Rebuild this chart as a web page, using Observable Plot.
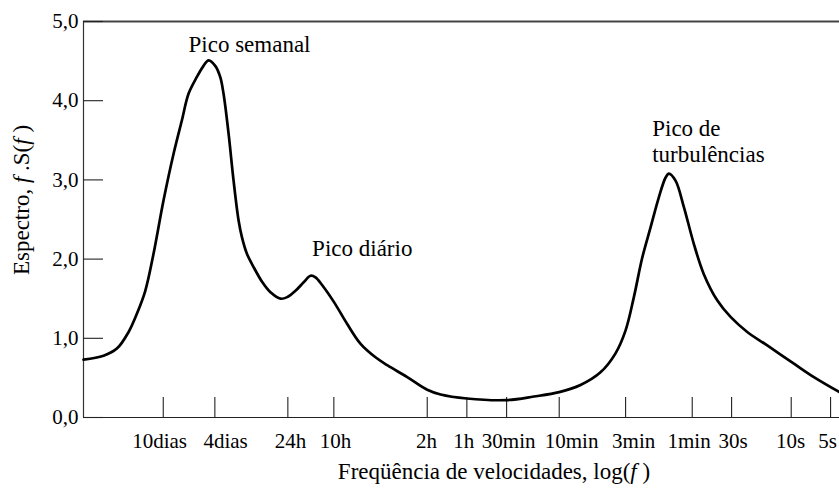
<!DOCTYPE html>
<html>
<head>
<meta charset="utf-8">
<script src="https://cdn.jsdelivr.net/npm/d3@7"></script>
<script src="https://cdn.jsdelivr.net/npm/@observablehq/plot@0.6"></script>
<style>
  html, body { margin: 0; padding: 0; background: #fff; }
  #chart { width: 839px; height: 488px; }
</style>
</head>
<body>
<div id="chart"></div>
<script>
const logF = [
  -6.562, -6.405, -6.300, -6.208, -6.143, -6.077, -6.012, -5.934, -5.855, -5.790,
  -5.737, -5.672, -5.620, -5.580, -5.528, -5.489, -5.463, -5.423, -5.384, -5.345,
  -5.319, -5.280, -5.227, -5.159, -5.094, -5.015, -4.963, -4.898, -4.832, -4.780,
  -4.741, -4.688, -4.597, -4.492, -4.387, -4.270, -4.178, -4.021, -3.864, -3.759,
  -3.553, -3.241, -3.027, -2.828, -2.661, -2.504, -2.386, -2.307, -2.242, -2.176,
  -2.111, -2.046, -1.993, -1.967, -1.915, -1.850, -1.771, -1.693, -1.588, -1.483,
  -1.352, -1.195, -0.986, -0.829, -0.628
];
const spectrum = [
  0.73, 0.78, 0.87, 1.08, 1.31, 1.60, 2.07, 2.74, 3.33, 3.75,
  4.09, 4.30, 4.44, 4.51, 4.44, 4.30, 4.09, 3.58, 2.99, 2.49,
  2.28, 2.07, 1.90, 1.71, 1.58, 1.50, 1.52, 1.60, 1.71, 1.79,
  1.77, 1.67, 1.46, 1.18, 0.93, 0.76, 0.66, 0.51, 0.35, 0.29,
  0.24, 0.22, 0.265, 0.32, 0.41, 0.57, 0.81, 1.10, 1.52, 2.02,
  2.40, 2.78, 3.03, 3.08, 2.99, 2.66, 2.19, 1.81, 1.48, 1.27,
  1.08, 0.91, 0.68, 0.51, 0.32
];

// x axis ticks (periods): tick positions and label centres on the log(f) axis
const xTickLabels = ["10dias", "4dias", "24h", "10h", "2h", "1h", "30min", "10min", "3min", "1min", "30s", "10s", "5s"];
const xTickPos = [-5.936, -5.531, -4.958, -4.597, -3.864, -3.553, -3.241, -2.828, -2.307, -1.784, -1.475, -1.007, -0.698];
const xLabelPos = [-5.965, -5.447, -4.937, -4.584, -3.869, -3.578, -3.225, -2.731, -2.244, -1.809, -1.463, -1.012, -0.722];
const xDomain = [-6.562, -0.628];

const yTicks = [0, 1, 2, 3, 4, 5];

// peak annotations
const peakLabels = ["Pico semanal", "Pico diário", "Pico de\nturbulências"];
const peakX = [-5.259, -4.374, -2.098];
const peakY = [4.61, 2.045, 3.232];
const peakAnchor = ["middle", "middle", "start"];

const curve = logF.map((x, i) => ({x, y: spectrum[i]}));
const notes = peakLabels.map((t, i) => ({text: t, x: peakX[i], y: peakY[i], anchor: peakAnchor[i]}));
const xLabels = xTickLabels.map((t, i) => ({text: t, x: xLabelPos[i]}));
const fmtY = d => d.toFixed(1).replace(".", ",");

const serif = "'Liberation Serif', 'Times New Roman', 'DejaVu Serif', serif";

const plot = Plot.plot({
  width: 839,
  height: 488,
  marginLeft: 83,
  marginRight: 0,
  marginTop: 21,
  marginBottom: 71,
  style: {fontSize: "21px", color: "#000", background: "#fff", overflow: "visible"},
  x: {domain: xDomain, axis: null},
  y: {domain: [0, 5], axis: null},
  marks: [
    // frame lines
    Plot.ruleY([0], {stroke: "#222", strokeWidth: 1.2}),
    Plot.ruleY([5], {stroke: "#444", strokeWidth: 1.8}),
    Plot.ruleX([xDomain[0]], {stroke: "#333", strokeWidth: 1.2}),
    // inward ticks
    Plot.axisY(yTicks, {anchor: "left", tickSize: -20, fill: "none", label: null, stroke: "#222", strokeWidth: 1.1}),
    Plot.axisX(xTickPos, {anchor: "bottom", tickSize: -20, fill: "none", label: null, stroke: "#222", strokeWidth: 1.1}),
    // tick labels
    Plot.axisY(yTicks, {anchor: "left", tickSize: 0, tickPadding: 5, tickFormat: fmtY, label: null, fontSize: 21}),
    Plot.text(xLabels, {x: "x", text: "text", frameAnchor: "bottom", lineAnchor: "top", dy: 16, textAnchor: "middle", fontSize: 21, fill: "#000"}),
    // the spectrum
    Plot.line(curve, {x: "x", y: "y", curve: "catmull-rom", stroke: "#000", strokeWidth: 2.7}),
    // annotations
    Plot.text(notes.filter(d => d.anchor === "middle"), {x: "x", y: "y", text: "text", textAnchor: "middle", lineAnchor: "bottom", fontSize: 23, fill: "#000"}),
    Plot.text(notes.filter(d => d.anchor === "start"), {x: "x", y: "y", text: "text", textAnchor: "start", lineAnchor: "bottom", lineHeight: 1.13, fontSize: 23, fill: "#000"})
  ]
});

const svg = d3.select(plot);
// y axis label with italic f
const yl = svg.append("text")
  .attr("transform", "translate(29,200) rotate(-90)")
  .attr("text-anchor", "middle")
  .attr("font-size", 23)
  .attr("fill", "#000");
yl.append("tspan").text("Espectro, ");
yl.append("tspan").attr("font-style", "italic").text("f");
yl.append("tspan").text(" .S(");
yl.append("tspan").attr("font-style", "italic").text("f");
yl.append("tspan").text(" )");

// x axis label with italic f
const xl = svg.append("text")
  .attr("x", 494)
  .attr("y", 479)
  .attr("text-anchor", "middle")
  .attr("font-size", 23)
  .attr("fill", "#000");
xl.append("tspan").text("Freqüência de velocidades, log(");
xl.append("tspan").attr("font-style", "italic").text("f");
xl.append("tspan").text(" )");

// serif face on every text element
svg.attr("font-family", serif).style("font-family", serif);
svg.selectAll("g").attr("font-family", null);
svg.selectAll("text, tspan").attr("font-family", serif).style("font-family", serif);

document.getElementById("chart").appendChild(plot);
</script>
</body>
</html>
